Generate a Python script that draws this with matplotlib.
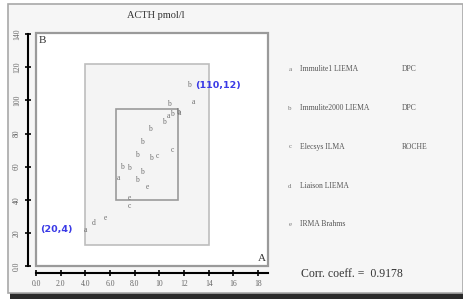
import matplotlib
matplotlib.use("Agg")
import matplotlib.pyplot as plt
from matplotlib.patches import Rectangle

# ---- data ----
pt_x = [12.4, 10.8, 12.76, 10.75, 11.05, 11.5, 11.65, 10.38, 9.25, 8.62, 8.2, 9.3,
        9.84, 11.06, 7.0, 7.54, 8.57, 6.68, 8.16, 9.05, 7.54, 7.54, 5.65, 4.65, 4.03]
pt_y = [109, 98, 99, 90.5, 91.5, 93, 92.5, 87, 83, 75, 67, 65,
        66.6, 70, 60, 59.3, 57, 53, 52, 47.5, 40.8, 36.4, 29.2, 25.7, 22]
pt_lab = ['b', 'b', 'a', 'a', 'b', 'b', 'a', 'b', 'b', 'b', 'b', 'b',
          'c', 'c', 'b', 'b', 'b', 'a', 'b', 'e', 'e', 'c', 'e', 'd', 'a']

xticks = [0, 2, 4, 6, 8, 10, 12, 14, 16, 18]
xtick_labels = ["0.0", "2.0", "4.0", "6.0", "8.0", "10", "12", "14", "16", "18"]
yticks = [0, 20, 40, 60, 80, 100, 120, 140]
ytick_labels = ["0.0", "20", "40", "60", "80", "100", "120", "140"]

outer_box = (4.0, 12.5, 14.0, 122.0)   # x0, y0, x1, y1
inner_box = (6.5, 40.0, 11.5, 95.0)

legend_keys = ['a', 'b', 'c', 'd', 'e']
legend_names = ["Immulite1 LIEMA", "Immulite2000 LIEMA", "Elecsys ILMA",
                "Liaison LIEMA", "IRMA Brahms"]
legend_makers = ["DPC", "DPC", "ROCHE", "", ""]
corr_text = "Corr. coeff. =  0.9178"

W, H = 464, 299
fig = plt.figure(figsize=(W / 100, H / 100), dpi=100)
fig.patch.set_facecolor("white")

def fx(px):
    return px / W

def fy(py):
    return 1 - py / H

# background axes for outer frame + shadow
bg = fig.add_axes([0, 0, 1, 1], zorder=-10)
bg.set_xlim(0, W)
bg.set_ylim(H, 0)
bg.axis("off")
bg.add_patch(Rectangle((10, 293), 454, 6, facecolor="#2a2a2a", edgecolor="none"))
bg.add_patch(Rectangle((8, 4), 455, 289, facecolor="#f6f6f6", edgecolor="#a8a8a8",
                       linewidth=1.2))

serif = "Liberation Serif"

ax = fig.add_axes([fx(36), fy(266), fx(268) - fx(36), (266 - 32.5) / H], zorder=1)
ax.set_facecolor("white")
ax.set_xlim(0, 18.8)
ax.set_ylim(0, 141)

# gray axes box
ax.add_patch(Rectangle((0, 0), 1, 1, transform=ax.transAxes, fill=False,
                       edgecolor="#9a9a9a", linewidth=1.6, zorder=5, clip_on=False))

for k in ["top", "right"]:
    ax.spines[k].set_visible(False)
for k in ["left", "bottom"]:
    ax.spines[k].set_color("black")
    ax.spines[k].set_linewidth(1.5)
ax.spines["left"].set_position(("outward", 5.8))
ax.spines["bottom"].set_position(("outward", 5.0))
ax.spines["left"].set_bounds(0, 140)
ax.spines["bottom"].set_bounds(0, 18.8)

ax.set_xticks(xticks)
ax.set_xticklabels(xtick_labels)
ax.set_yticks(yticks)
ax.set_yticklabels(ytick_labels, rotation=90, va="center")
ax.tick_params(direction="inout", length=4, width=1.2, colors="black",
               labelsize=5.5, labelcolor="#666666", pad=3)
for lab in ax.get_xticklabels() + ax.get_yticklabels():
    lab.set_fontfamily(serif)

# rectangles
x0, y0, x1, y1 = outer_box
ax.add_patch(Rectangle((x0, y0), x1 - x0, y1 - y0, facecolor="#f4f4f4",
                       edgecolor="#bdbdbd", linewidth=1.2, zorder=1))
x0, y0, x1, y1 = inner_box
ax.add_patch(Rectangle((x0, y0), x1 - x0, y1 - y0, facecolor="#f4f4f4",
                       edgecolor="#9a9a9a", linewidth=1.2, zorder=2))

# points as letters
for x, y, s in zip(pt_x, pt_y, pt_lab):
    ax.text(x, y, s, fontsize=5.5, color="#707070", family=serif,
            ha="center", va="center", zorder=3)

# annotations
ax.annotate("(110,12)", (pt_x[0], pt_y[0]), xytext=(6, 0), textcoords="offset pixels",
            fontsize=6.8, fontweight="bold", color="#3a3ae6", ha="left", va="center",
            family="DejaVu Sans", zorder=4)
ax.annotate("(20,4)", (pt_x[-1], pt_y[-1]), xytext=(-13, 0), textcoords="offset pixels",
            fontsize=6.8, fontweight="bold", color="#3a3ae6", ha="right", va="center",
            family="DejaVu Sans", zorder=4)

ax.text(0.012, 0.985, "B", transform=ax.transAxes, fontsize=8, family=serif,
        color="#333333", ha="left", va="top")
ax.text(0.99, 0.012, "A", transform=ax.transAxes, fontsize=8, family=serif,
        color="#333333", ha="right", va="bottom")

# title
fig.text(fx(156), fy(16), "ACTH pmol/l", fontsize=7.5, family=serif, color="#333333",
         ha="center", va="center")

# legend texts
leg_y = [69, 108, 147, 186, 224]
for yy, k, n, m in zip(leg_y, legend_keys, legend_names, legend_makers):
    fig.text(fx(290), fy(yy), k, fontsize=5, family=serif, color="#777777",
             ha="center", va="center")
    fig.text(fx(300), fy(yy), n, fontsize=5.5, family=serif, color="#555555",
             ha="left", va="center")
    if m:
        fig.text(fx(402), fy(yy), m, fontsize=5.5, family=serif, color="#555555",
                 ha="left", va="center")

fig.text(fx(301), fy(274), corr_text, fontsize=8.5, family=serif, color="#333333",
         ha="left", va="center")

fig.savefig("out.png", dpi=100)
